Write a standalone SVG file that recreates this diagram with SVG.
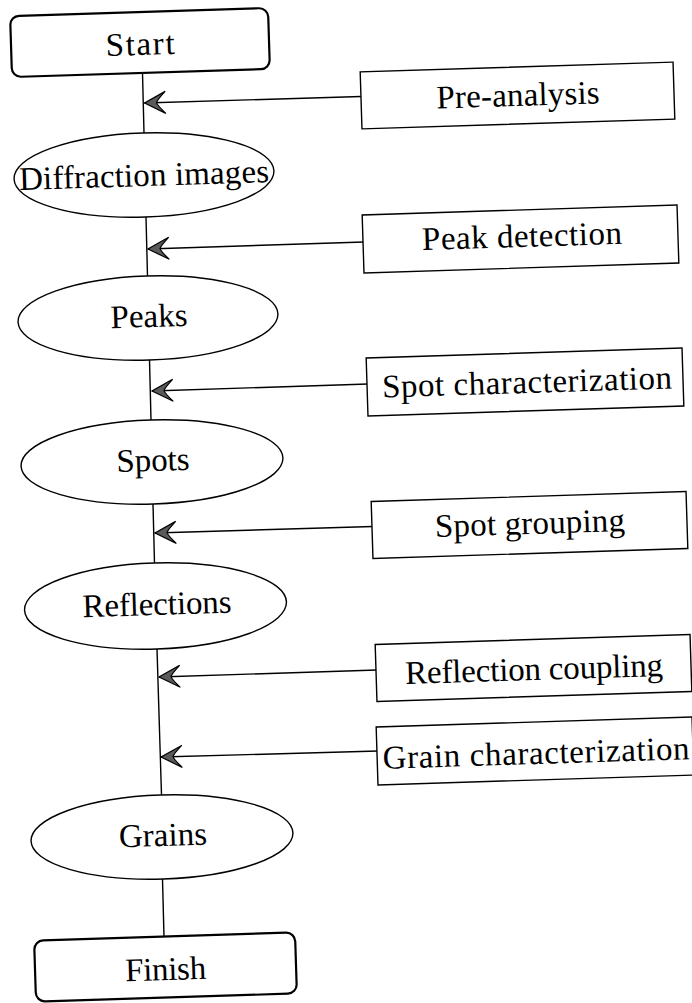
<svg xmlns="http://www.w3.org/2000/svg" width="692" height="1003" viewBox="0 0 692 1003">
  <style>
    .terminal { fill: #fff; stroke: #000; stroke-width: 2.2; }
    .state { fill: #fff; stroke: #000; stroke-width: 1.4; }
    .step { fill: #fff; stroke: #000; stroke-width: 1.4; }
    .flow { fill: none; stroke: #000; stroke-width: 1.4; }
    .feed { fill: none; stroke: #000; stroke-width: 1.4; marker-end: url(#stealth); }
    text { font-family: "Liberation Serif", "Times New Roman", serif; font-size: 33px; fill: #000; text-anchor: middle; }
  </style>
  <defs>
    <marker id="stealth" viewBox="-23 -13 25 26" refX="0" refY="0" markerWidth="25" markerHeight="26" markerUnits="userSpaceOnUse" orient="auto">
      <path d="M0 0 L-21 -11 Q-13 -3 -12 0 Q-13 3 -21 11 Z" fill="#5a5a5a" stroke="#000" stroke-width="1.2" stroke-linejoin="miter"/>
    </marker>
  </defs>

  <rect width="692" height="1003" fill="#fff"/>

  <!-- main chain and process inputs -->
  <g id="connectors">
    <line class="flow" x1="142.5" y1="73" x2="144" y2="133"/>
    <line class="flow" x1="146" y1="217" x2="147.5" y2="276"/>
    <line class="flow" x1="149.5" y1="360" x2="151" y2="420"/>
    <line class="flow" x1="153" y1="504" x2="154.5" y2="563"/>
    <line class="flow" x1="157" y1="649" x2="161.5" y2="795"/>
    <line class="flow" x1="162.5" y1="879" x2="164" y2="937"/>

    <line class="feed" x1="361" y1="96.5" x2="144.5" y2="103"/>
    <line class="feed" x1="364" y1="242" x2="148" y2="249"/>
    <line class="feed" x1="368" y1="384" x2="152" y2="391"/>
    <line class="feed" x1="373" y1="526.5" x2="155" y2="533"/>
    <line class="feed" x1="377" y1="670" x2="159" y2="677"/>
    <line class="feed" x1="378" y1="751" x2="161" y2="757"/>
  </g>

  <!-- states on the main chain -->
  <g id="start" transform="rotate(-1.8 140 42.5)">
    <rect class="terminal" x="11" y="12" width="258" height="61" rx="9"/>
    <text x="140" y="55" textLength="69">Start</text>
  </g>
  <g id="diffraction-images" transform="rotate(-1.8 144 175)">
    <ellipse class="state" cx="144" cy="175" rx="130" ry="42"/>
    <text x="144" y="186" textLength="250">Diffraction images</text>
  </g>
  <g id="peaks" transform="rotate(-1.8 148 318)">
    <ellipse class="state" cx="148" cy="318" rx="130" ry="42"/>
    <text x="149" y="327" textLength="77">Peaks</text>
  </g>
  <g id="spots" transform="rotate(-1.8 152 462)">
    <ellipse class="state" cx="152" cy="462" rx="131" ry="42"/>
    <text x="153" y="471" textLength="73">Spots</text>
  </g>
  <g id="reflections" transform="rotate(-1.8 155.5 606)">
    <ellipse class="state" cx="155.5" cy="606" rx="131" ry="43"/>
    <text x="157" y="615" textLength="149">Reflections</text>
  </g>
  <g id="grains" transform="rotate(-1.8 162 837)">
    <ellipse class="state" cx="162" cy="837" rx="131" ry="42"/>
    <text x="163" y="846" textLength="88">Grains</text>
  </g>
  <g id="finish" transform="rotate(-1.8 165.5 967)">
    <rect class="terminal" x="35" y="936.5" width="261" height="61" rx="9"/>
    <text x="165.5" y="980" textLength="81">Finish</text>
  </g>

  <!-- processing steps -->
  <g id="pre-analysis" transform="rotate(-1.8 517.5 95.5)">
    <rect class="step" x="361" y="67" width="313" height="57"/>
    <text x="518" y="106" textLength="163">Pre-analysis</text>
  </g>
  <g id="peak-detection" transform="rotate(-1.8 520.5 239)">
    <rect class="step" x="363" y="210" width="315" height="58"/>
    <text x="522" y="247" textLength="200">Peak detection</text>
  </g>
  <g id="spot-characterization" transform="rotate(-1.8 525 382)">
    <rect class="step" x="367" y="353" width="316" height="58"/>
    <text x="527" y="393" textLength="290">Spot characterization</text>
  </g>
  <g id="spot-grouping" transform="rotate(-1.8 529.5 525)">
    <rect class="step" x="372" y="496.5" width="315" height="57"/>
    <text x="530" y="534" textLength="190">Spot grouping</text>
  </g>
  <g id="reflection-coupling" transform="rotate(-1.8 533.5 668)">
    <rect class="step" x="376" y="639.5" width="315" height="57"/>
    <text x="534" y="680" textLength="258">Reflection coupling</text>
  </g>
  <g id="grain-characterization" transform="rotate(-1.8 535 751)">
    <rect class="step" x="377" y="722" width="316" height="58"/>
    <text x="536" y="764" textLength="307">Grain characterization</text>
  </g>
</svg>
